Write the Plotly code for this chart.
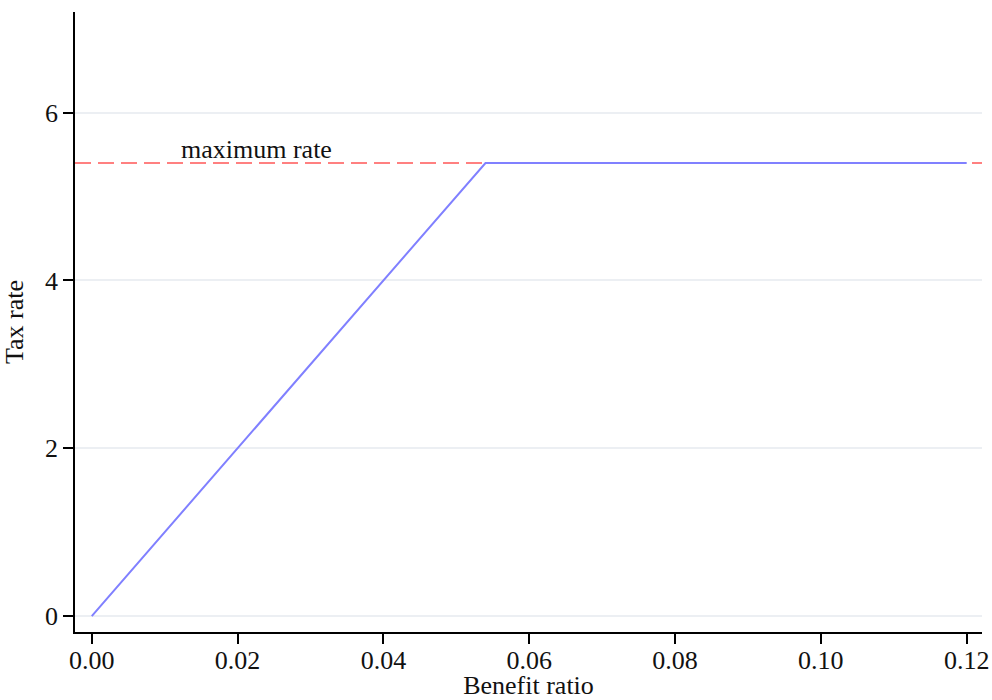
import plotly.graph_objects as go

# data
benefit_ratio = [0.0, 0.054, 0.12]
tax_rate = [0.0, 5.4, 5.4]
max_rate = 5.4
x_ticks = [0.00, 0.02, 0.04, 0.06, 0.08, 0.10, 0.12]
x_tick_labels = ["0.00", "0.02", "0.04", "0.06", "0.08", "0.10", "0.12"]
y_ticks = [0, 2, 4, 6]
y_tick_labels = ["0", "2", "4", "6"]

FONT = "Liberation Serif"
FS = 26

fig = go.Figure()
fig.add_hline(y=max_rate, line=dict(color="#FF8080", width=2, dash="16px,7px"), layer="below")
fig.add_trace(go.Scatter(x=benefit_ratio, y=tax_rate, mode="lines",
                         line=dict(color="#8080FF", width=2), showlegend=False, hoverinfo="skip"))
fig.add_annotation(x=0.0226, y=max_rate, text="maximum rate", showarrow=False,
                   xanchor="center", yanchor="bottom", yshift=-3,
                   font=dict(family=FONT, size=FS, color="#111111"))

fig.update_layout(
    width=992, height=700,
    margin=dict(l=75, r=10, t=12, b=68),
    paper_bgcolor="white", plot_bgcolor="white",
    font=dict(family=FONT, size=FS, color="#111111"),
    showlegend=False,
)
fig.update_xaxes(range=[-0.0023, 0.1221], tickvals=x_ticks, ticktext=x_tick_labels,
                 automargin=False, ticklabelstandoff=-6,
                 showgrid=False, zeroline=False, showline=True, linecolor="black", linewidth=1.5,
                 ticks="outside", ticklen=10, tickcolor="black", tickwidth=1.5,
                 title=dict(text="Benefit ratio", font=dict(family=FONT, size=FS)),
                 tickfont=dict(family=FONT, size=FS))
fig.update_yaxes(range=[-0.19, 7.2], tickvals=y_ticks, ticktext=y_tick_labels,
                 automargin=True,
                 showgrid=True, gridcolor="#ECEFF3", gridwidth=2, zeroline=False,
                 showline=True, linecolor="black", linewidth=1.5,
                 ticks="outside", ticklen=10, tickcolor="black", tickwidth=1.5,
                 title=dict(text="Tax rate", standoff=16, font=dict(family=FONT, size=FS)),
                 tickfont=dict(family=FONT, size=FS))

fig.write_html("out.html")
